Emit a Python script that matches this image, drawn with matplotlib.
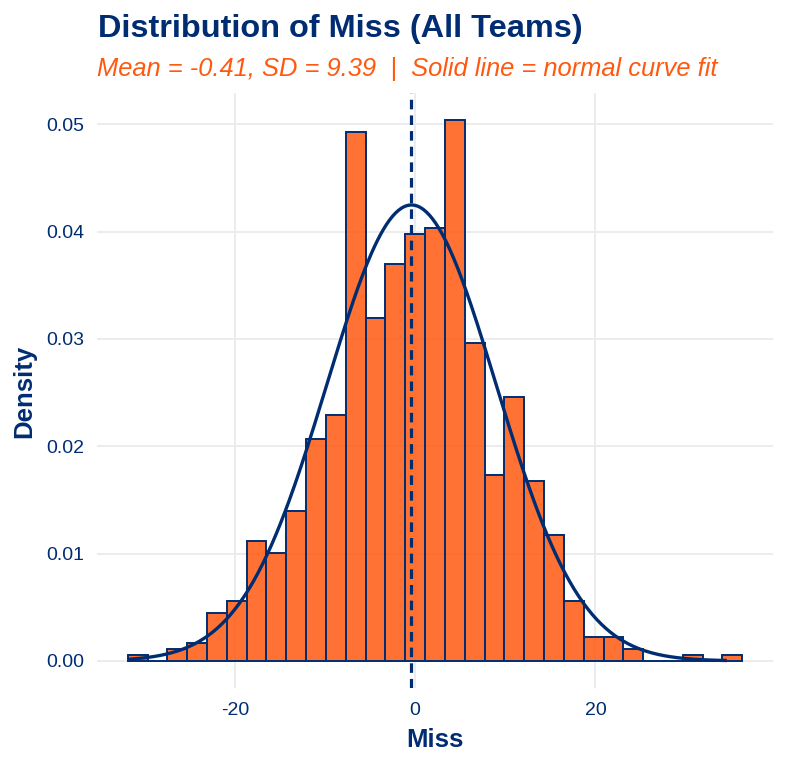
import numpy as np
import matplotlib
matplotlib.use("Agg")
from matplotlib import pyplot as plt

plt.rcParams['font.family'] = ['Liberation Sans', 'DejaVu Sans']
plt.rcParams['axes.unicode_minus'] = False

navy = '#002D72'
orange = '#FF5910'

# histogram bins (density scale)
bin_start = -31.9
bin_width = 2.2
density = [0.00053, 0.0, 0.00112, 0.00165, 0.00447, 0.00556, 0.01116, 0.01004,
           0.01395, 0.02066, 0.0229, 0.04928, 0.03194, 0.03698, 0.03977, 0.04033,
           0.0504, 0.02961, 0.01731, 0.02461, 0.01678, 0.01174, 0.00556, 0.00221,
           0.00221, 0.00112, 0.0, 0.0, 0.00053, 0.0, 0.00053]

miss_mean = -0.41
miss_sd = 9.39
miss_min = -31.7
miss_max = 34.4

fig = plt.figure(figsize=(7.86, 7.65), dpi=100)
W, H = 786, 765
ax = fig.add_axes([97 / W, 1 - 688 / H, 676 / W, 595 / H])

centers = bin_start + bin_width * (np.arange(len(density)) + 0.5)
ax.bar(centers, density, width=bin_width, facecolor=(1.0, 0.349, 0.063, 0.85),
       edgecolor=navy, linewidth=1.4, zorder=2)

xs = np.linspace(miss_min, miss_max, 400)
ys = np.exp(-0.5 * ((xs - miss_mean) / miss_sd) ** 2) / (miss_sd * np.sqrt(2 * np.pi))
ax.plot(xs, ys, color=navy, lw=2.4, zorder=3)
ax.axvline(miss_mean, color=navy, lw=2.3, dashes=(3.0, 1.9), zorder=4)

lo = bin_start
hi = bin_start + bin_width * len(density)
ax.set_xlim(lo - 0.05 * (hi - lo), hi + 0.05 * (hi - lo))
top = max(density)
ax.set_ylim(-0.05 * top, 1.05 * top)

ax.set_xticks([-20, 0, 20])
ax.set_yticks([0, 0.01, 0.02, 0.03, 0.04, 0.05])
ax.set_yticklabels(['0.00', '0.01', '0.02', '0.03', '0.04', '0.05'])
ax.tick_params(length=0, labelsize=14, labelcolor=navy)
ax.tick_params(axis='x', pad=10)
ax.tick_params(axis='y', pad=9)
ax.grid(True, color='#EBEBEB', lw=1.3, zorder=0)
ax.set_axisbelow(True)
for s in ax.spines.values():
    s.set_visible(False)

fig.text(98 / W, 1 - 36.7 / H, 'Distribution of Miss (All Teams)', fontsize=23.4,
         fontweight='bold', color=navy, ha='left', va='baseline')
fig.text(97 / W, 1 - 76 / H,
         'Mean = -0.41, SD = 9.39  |  Solid line = normal curve fit',
         fontsize=18.4, style='italic', color=orange, ha='left', va='baseline')
fig.text(435 / W, 1 - 747 / H, 'Miss', fontsize=18.5, fontweight='bold',
         color=navy, ha='center', va='baseline')
fig.text(24 / W, 1 - 391 / H, 'Density', fontsize=18.5, fontweight='bold',
         color=navy, ha='center', va='center', rotation=90)

plt.savefig('out.png', dpi=100)
